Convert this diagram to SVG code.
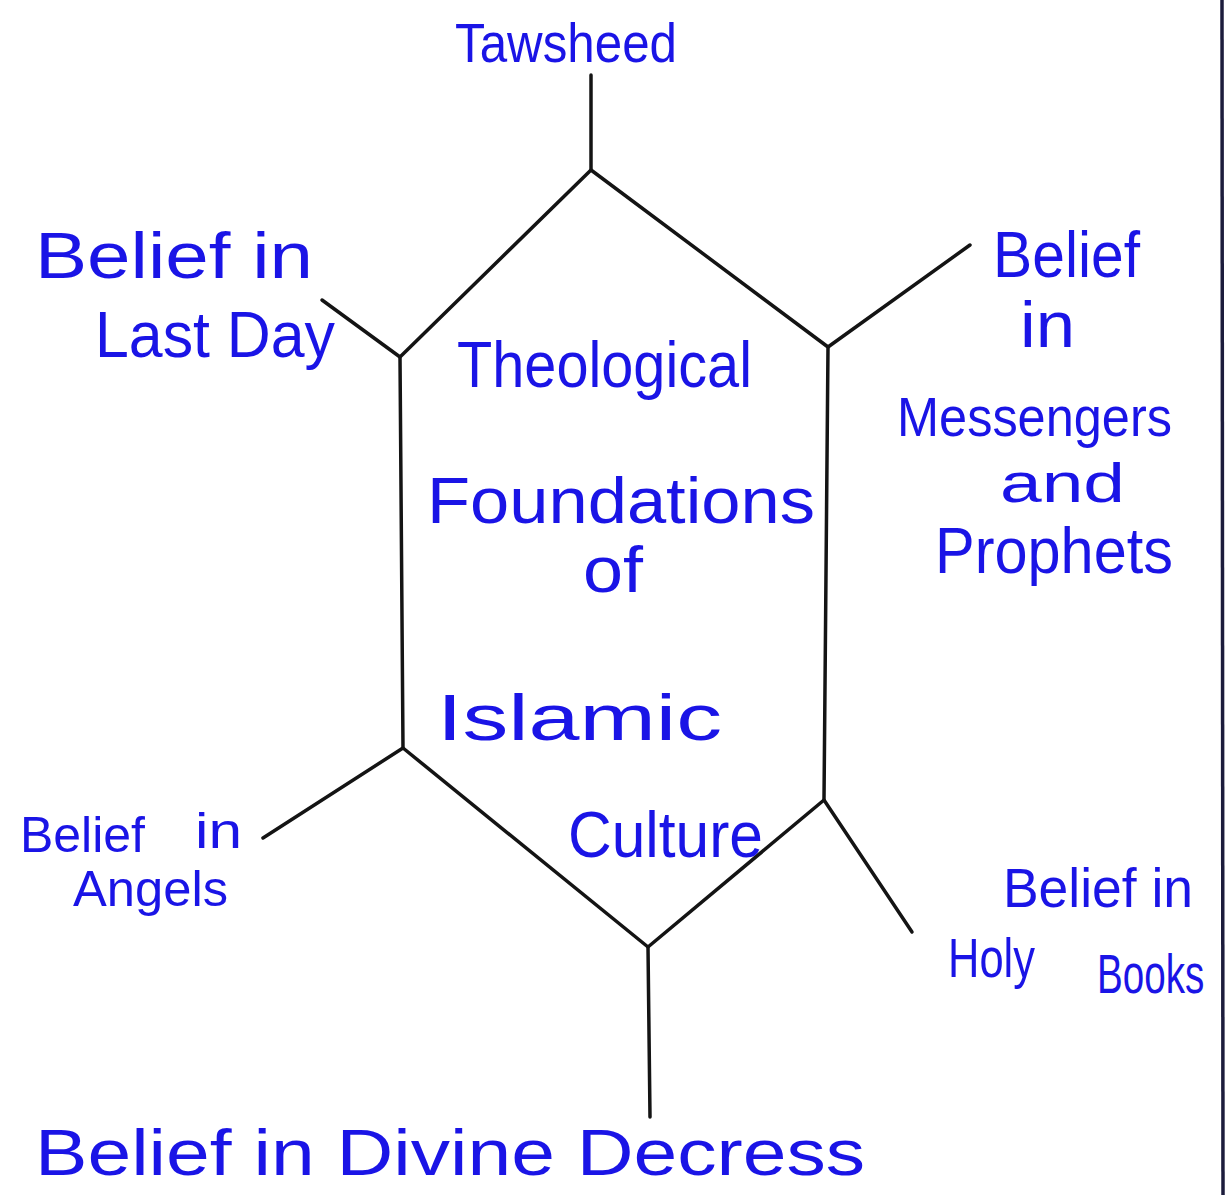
<svg xmlns="http://www.w3.org/2000/svg" width="1232" height="1195" viewBox="0 0 1232 1195">
<style>
  .lbl { font-family: "Liberation Sans", "DejaVu Sans", sans-serif; fill: #1a14e6; font-size: 64px; }
  .sm { font-size: 56px; }
  .xs { font-size: 50px; }
  .ln { stroke: #141414; stroke-width: 3.5; fill: none; stroke-linecap: round; stroke-linejoin: round; }
</style>
<rect x="0" y="0" width="1232" height="1195" fill="#ffffff"/>
<line x1="1222" y1="0" x2="1223" y2="1195" stroke="#1c1c3c" stroke-width="3.5"/>

<g id="center">
  <polygon class="ln" points="591,170 828,347 824,800 648,947 403,748 400,357"/>
  <text class="lbl" x="457" y="387" textLength="295" lengthAdjust="spacingAndGlyphs">Theological</text>
  <text class="lbl" x="427" y="523" textLength="388" lengthAdjust="spacingAndGlyphs">Foundations</text>
  <text class="lbl" x="583" y="592" textLength="60" lengthAdjust="spacingAndGlyphs">of</text>
  <text class="lbl" x="437" y="740" textLength="285" lengthAdjust="spacingAndGlyphs">Islamic</text>
  <text class="lbl" x="568" y="857" textLength="195" lengthAdjust="spacingAndGlyphs">Culture</text>
</g>

<g id="connectors">
  <line class="ln" x1="591" y1="170" x2="591" y2="75"/>
  <line class="ln" x1="828" y1="347" x2="970" y2="245"/>
  <line class="ln" x1="824" y1="800" x2="912" y2="932"/>
  <line class="ln" x1="648" y1="947" x2="650" y2="1117"/>
  <line class="ln" x1="403" y1="748" x2="263" y2="838"/>
  <line class="ln" x1="400" y1="357" x2="322" y2="300"/>
</g>

<g id="tawsheed">
  <text class="lbl sm" x="455" y="62" textLength="222" lengthAdjust="spacingAndGlyphs">Tawsheed</text>
</g>

<g id="last-day">
  <text class="lbl" x="35" y="278" textLength="278" lengthAdjust="spacingAndGlyphs">Belief in</text>
  <text class="lbl" x="95" y="357" textLength="240" lengthAdjust="spacingAndGlyphs">Last Day</text>
</g>

<g id="messengers">
  <text class="lbl" x="993" y="277" textLength="147" lengthAdjust="spacingAndGlyphs">Belief</text>
  <text class="lbl" x="1020" y="347" textLength="55" lengthAdjust="spacingAndGlyphs">in</text>
  <text class="lbl sm" x="897" y="436" textLength="275" lengthAdjust="spacingAndGlyphs">Messengers</text>
  <text class="lbl sm" x="1000" y="502" textLength="125" lengthAdjust="spacingAndGlyphs">and</text>
  <text class="lbl" x="935" y="573" textLength="238" lengthAdjust="spacingAndGlyphs">Prophets</text>
</g>

<g id="angels">
  <text class="lbl xs" x="20" y="852" textLength="125" lengthAdjust="spacingAndGlyphs">Belief</text>
  <text class="lbl xs" x="195" y="848" textLength="47" lengthAdjust="spacingAndGlyphs">in</text>
  <text class="lbl xs" x="73" y="906" textLength="155" lengthAdjust="spacingAndGlyphs">Angels</text>
</g>

<g id="holy-books">
  <text class="lbl sm" x="1003" y="907" textLength="190" lengthAdjust="spacingAndGlyphs">Belief in</text>
  <text class="lbl sm" x="948" y="977" textLength="87" lengthAdjust="spacingAndGlyphs">Holy</text>
  <text class="lbl sm" transform="translate(1097,993) scale(0.69,1)" x="0" y="0">Books</text>
</g>

<g id="divine-decrees">
  <text class="lbl" x="35" y="1175" textLength="830" lengthAdjust="spacingAndGlyphs">Belief in Divine Decress</text>
</g>
</svg>
